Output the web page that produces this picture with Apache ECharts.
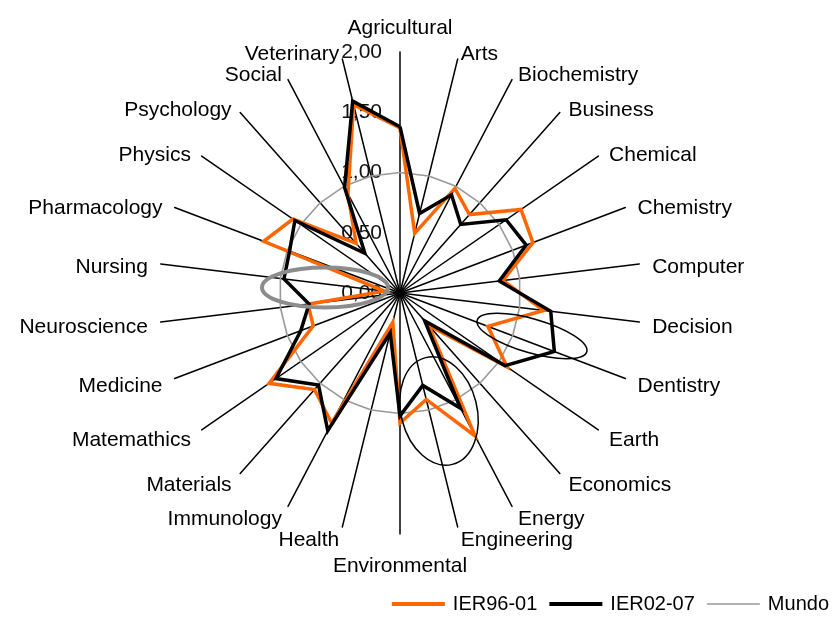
<!DOCTYPE html>
<html>
<head>
<meta charset="utf-8">
<script src="https://cdn.jsdelivr.net/npm/echarts@6/dist/echarts.min.js"></script>
<style>
  html, body { margin: 0; padding: 0; background: #fff; }
  #chart { width: 836px; height: 617px; }
</style>
</head>
<body>
<div id="chart"></div>
<script>
// categories, clockwise from the top
var categories = ['Agricultural', 'Arts', 'Biochemistry', 'Business', 'Chemical', 'Chemistry', 'Computer',
  'Decision', 'Dentistry', 'Earth', 'Economics', 'Energy', 'Engineering', 'Environmental', 'Health',
  'Immunology', 'Materials', 'Matemathics', 'Medicine', 'Neuroscience', 'Nursing', 'Pharmacology',
  'Physics', 'Psychology', 'Social', 'Veterinary'];
var ier9601 = [1.37, 0.51, 0.98, 0.87, 1.22, 1.18, 0.86, 1.20, 0.78, 1.08, 0.36, 1.34, 0.91,
  1.08, 0.25, 1.22, 1.07, 1.32, 0.77, 0.77, 0.13, 1.21, 1.08, 0.55, 0.93, 1.61];
var ier0207 = [1.38, 0.68, 0.92, 0.76, 1.07, 1.12, 0.83, 1.26, 1.37, 1.06, 0.31, 1.08, 0.79,
  1.02, 0.34, 1.29, 1.02, 1.25, 0.88, 0.76, 0.97, 0.98, 1.06, 0.44, 0.99, 1.64];
var mundo = [1, 1, 1, 1, 1, 1, 1, 1, 1, 1, 1, 1, 1, 1, 1, 1, 1, 1, 1, 1, 1, 1, 1, 1, 1, 1];
var axisMax = 2;

// echarts lays radar axes counter-clockwise, so keep the first one and reverse the rest
var order = [0];
for (var i = categories.length - 1; i > 0; i--) order.push(i);
function pick(arr) { return order.map(function (k) { return arr[k]; }); }

var font = 'Liberation Sans, Arial, sans-serif';

// names sit a little lower in the original, more so at the top: a spacer line pushes them down
var rich = { n: { fontSize: 21, lineHeight: 22, color: '#000', fontFamily: font } };
for (var h = 1; h <= 20; h++) rich['s' + h] = { fontSize: 1, lineHeight: h };
function spacerFor(k) {
  if (k === 13) return 8;
  var a = k * 2 * Math.PI / categories.length;
  return Math.max(1, Math.round(2 * (4.5 + 3.5 * Math.cos(a))));
}

var chart = echarts.init(document.getElementById('chart'));

chart.setOption({
  animation: false,
  textStyle: { fontFamily: font },
  legend: {
    data: [
      { name: 'IER96-01', icon: 'path://M0,0L53,0L53,4L0,4Z' },
      { name: 'IER02-07', icon: 'path://M0,0L53,0L53,4L0,4Z' },
      { name: 'Mundo', icon: 'path://M0,0L0,0M0,1.2L53,1.2L53,2.8L0,2.8ZM0,4L0,4' }
    ],
    right: 2,
    top: 589,
    itemWidth: 53,
    itemHeight: 4,
    itemGap: 12,
    textStyle: { fontSize: 20, color: '#000', fontFamily: font, padding: [0, 0, 0, 3] }
  },
  radar: {
    center: [400, 293],
    radius: 241,
    startAngle: 90,
    shape: 'circle',
    splitNumber: 4,
    nameGap: 13,
    axisName: {
      color: '#000', fontSize: 21, fontFamily: font, rich: rich,
      formatter: function (name, ind) { return '{s' + ind.spacer + '| }\n{n|' + name + '}'; }
    },
    indicator: order.map(function (k, idx) {
      return { name: categories[k], min: 0, max: axisMax, spacer: spacerFor(k), axisLabel: { show: idx === 0 } };
    }),
    axisLine: { lineStyle: { color: '#000', width: 1.5 } },
    axisTick: { show: false },
    axisLabel: {
      show: false,
      margin: 18,
      color: '#111',
      fontSize: 21,
      fontFamily: font,
      showMinLabel: true,
      showMaxLabel: true,
      formatter: function (v) { return v.toFixed(2).replace('.', ','); }
    },
    splitLine: { show: false },
    splitArea: { show: false }
  },
  series: [{
    type: 'radar',
    symbol: 'none',
    data: [
      { name: 'Mundo', value: pick(mundo), lineStyle: { color: '#999', width: 1.6 }, itemStyle: { color: '#999' } },
      { name: 'IER96-01', value: pick(ier9601), lineStyle: { color: '#ff6600', width: 3.5, join: 'miter' }, itemStyle: { color: '#ff6600' } },
      { name: 'IER02-07', value: pick(ier0207), lineStyle: { color: '#000', width: 3.5, join: 'miter' }, itemStyle: { color: '#000' } }
    ]
  }],
  graphic: [
    { type: 'ellipse', x: 325, y: 287.5, z: 100, shape: { cx: 0, cy: 0, rx: 63, ry: 20 },
      style: { fill: 'none', stroke: '#8c8c8c', lineWidth: 4 } },
    { type: 'ellipse', x: 532, y: 336, rotation: -0.28, z: 100, shape: { cx: 0, cy: 0, rx: 57, ry: 17 },
      style: { fill: 'none', stroke: '#000', lineWidth: 1.5 } },
    { type: 'ellipse', x: 439, y: 411, rotation: 0.245, z: 100, shape: { cx: 0, cy: 0, rx: 38, ry: 55 },
      style: { fill: 'none', stroke: '#000', lineWidth: 1.5 } }
  ]
});
</script>
</body>
</html>
